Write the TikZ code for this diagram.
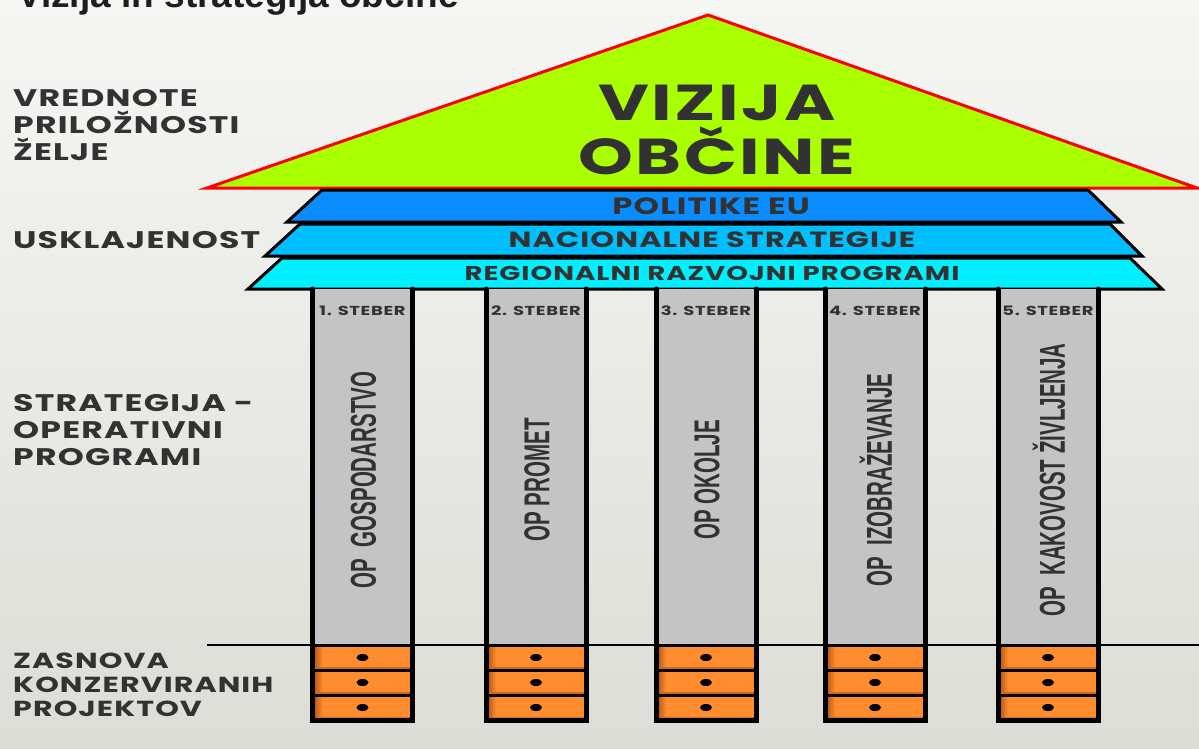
\documentclass[tikz,border=0pt]{standalone}
\usepackage{fontspec}
\setmainfont{Poppins}
\newfontfamily\widefont{Poppins}[FakeStretch=1.38, LetterSpace=5]
\newfontfamily\narrowfont{Liberation Sans}
\newfontfamily\titlefont{Liberation Sans}
\usetikzlibrary{positioning}

\definecolor{roofgreen}{RGB}{170,255,0}
\definecolor{eublue}{RGB}{10,140,255}
\definecolor{natblue}{RGB}{0,190,255}
\definecolor{regcyan}{RGB}{0,240,255}
\definecolor{pillargrey}{RGB}{196,196,196}
\definecolor{drawerorange}{RGB}{255,140,46}
\definecolor{drawershade}{RGB}{185,90,20}
\definecolor{labelgrey}{RGB}{50,50,50}
\definecolor{bgtop}{RGB}{246,246,244}
\definecolor{bgbottom}{RGB}{221,221,215}

\tikzset{
  sidelabel/.style={anchor=west, align=left, inner sep=0pt, text=labelgrey,
    font=\widefont\bfseries\fontsize{24}{27}\selectfont},
  band/.style={draw=black, line width=3pt},
  bandtext/.style={inner sep=0pt, text=labelgrey, font=\widefont\bfseries\fontsize{22}{22}\selectfont},
  steblabel/.style={inner sep=0pt, text=labelgrey, font=\widefont\bfseries\fontsize{13}{13}\selectfont},
  oplabel/.style={rotate=90, inner sep=0pt, text=labelgrey, font=\narrowfont\bfseries\fontsize{36}{36}\selectfont},
  frame/.style={line width=5pt, line cap=round},
}

\begin{document}
\begin{tikzpicture}[x=1pt, y=-1pt]
            \useasboundingbox (0,0) rectangle (1199,748);
            \clip (0,0) rectangle (1199,748);
            % Background
            \shade[top color=bgtop, bottom color=bgbottom] (0,0) rectangle (1199,748);
            \node[anchor=base west, inner sep=0pt, text=labelgrey!60!black, font=\titlefont\bfseries\fontsize{37}{37}\selectfont] (title) at (17,7) {Vizija in strategija občine};

            % Roof
            \draw[red, line width=3pt, fill=roofgreen, line join=miter] (708,15) -- (1197,188) -- (207,188) -- cycle;
            \node[align=center, inner sep=0pt, text=labelgrey, font=\widefont\bfseries\fontsize{50.5}{54}\selectfont] (vizija) at (717,130) {VIZIJA\\OBČINE};

            % Bands
            \draw[band, fill=eublue] (322,190) -- (1088,190) -- (1121,222) -- (287,222) -- cycle;
            \draw[band, fill=natblue] (300,224) -- (1110,224) -- (1142,256) -- (265,256) -- cycle;
            \draw[band, fill=regcyan] (282,258) -- (1130,258) -- (1162,289) -- (248,289) -- cycle;
            \node[bandtext, font=\widefont\bfseries\fontsize{23.5}{23.5}\selectfont] (eu) at (711,206) {POLITIKE EU};
            \node[bandtext] (nac) at (712,240) {NACIONALNE STRATEGIJE};
            \node[bandtext, font=\widefont\bfseries\fontsize{20}{20}\selectfont] (reg) at (712,273) {REGIONALNI RAZVOJNI PROGRAMI};

            % Ground line
            \draw[line width=2.5pt] (207,645) -- (1199,645);

            % Pillars
            \foreach \i/\cx/\op in {1/362.5/{OP~~GOSPODARSTVO}, 2/536/{OP PROMET}, 3/706/{OP OKOLJE}, 4/875/{OP~~IZOBRAŽEVANJE}, 5/1048/{OP~~KAKOVOST ŽIVLJENJA}} {
              \fill[pillargrey] (\cx-50,289) rectangle (\cx+50,645);
              \foreach \d in {0,1,2} {
                \fill[drawerorange] (\cx-50,645+25*\d) rectangle (\cx+50,670+25*\d);
                \shade[left color=drawershade, right color=drawerorange] (\cx-48,646+25*\d) rectangle (\cx-40,670+25*\d);
                \fill[drawershade!70!drawerorange] (\cx-48,667+25*\d) rectangle (\cx+48,670+25*\d);
                \fill (\cx,657.5+25*\d) ellipse (6 and 3.5);
              }
              \draw[line width=3pt] (\cx-50,645) -- (\cx+50,645) (\cx-50,670) -- (\cx+50,670) (\cx-50,695) -- (\cx+50,695);
              \draw[frame] (\cx-50,289) -- (\cx-50,720) -- (\cx+50,720) -- (\cx+50,289);
              \node[steblabel] (steber\i) at (\cx,311) {\i. STEBER};
              \node[oplabel] (op\i) at (\cx+1,480) {\scalebox{0.57}[1]{\op}};
            }

            % Side labels
            \node[sidelabel] (vrednote) at (13,125) {VREDNOTE\\PRILOŽNOSTI\\ŽELJE};
            \node[sidelabel] (usklajenost) at (13,240) {USKLAJENOST};
            \node[sidelabel] (strategija) at (13,430) {STRATEGIJA -\\OPERATIVNI\\PROGRAMI};
            \node[sidelabel, font=\widefont\bfseries\fontsize{21.8}{24}\selectfont] (zasnova) at (13,685) {ZASNOVA\\KONZERVIRANIH\\PROJEKTOV};
        \end{tikzpicture}
\end{document}
